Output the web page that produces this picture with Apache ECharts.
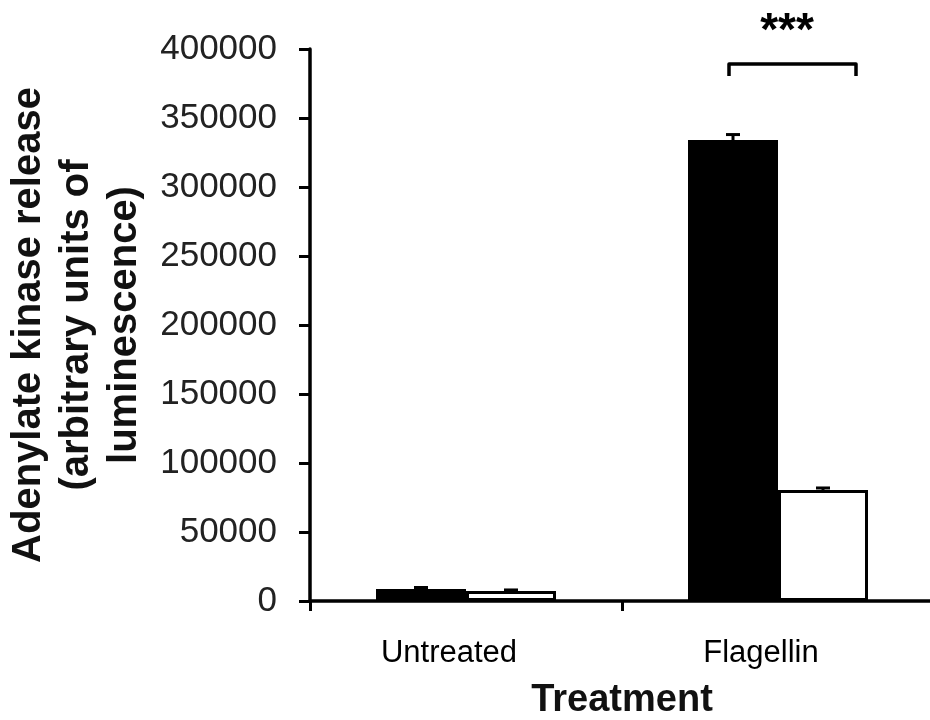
<!DOCTYPE html>
<html>
<head>
<meta charset="utf-8">
<script src="https://cdn.jsdelivr.net/npm/echarts@6/dist/echarts.min.js"></script>
<style>
html,body{margin:0;padding:0;background:#fff;}
#chart{width:930px;height:720px;}
</style>
</head>
<body>
<div id="chart"></div>
<script>
// ---- data ----
const categories = ['Untreated', 'Flagellin'];
const blackValues = [8700, 334000];
const whiteValues = [7300, 80400];
const blackErrors = [1100, 4000];
const whiteErrors = [700, 1500];
const yTicks = [0, 50000, 100000, 150000, 200000, 250000, 300000, 350000, 400000];
const significance = '***';

const FONT = '"Liberation Sans", Arial, Helvetica, sans-serif';
const BAR_W = 90;

const chart = echarts.init(document.getElementById('chart'), null, {renderer: 'canvas'});

function errorSeries(values, errors, sign) {
  return {
    type: 'custom',
    z: 10,
    silent: true,
    data: categories.map((c, i) => [i, values[i], errors[i]]),
    renderItem: function (params, api) {
      const i = api.value(0);
      const v = api.value(1);
      const e = api.value(2);
      const base = api.coord([i, v]);
      const top = api.coord([i, v + e]);
      const x = base[0] + sign * BAR_W / 2;
      const half = 7;
      return {
        type: 'group',
        children: [
          {type: 'line', shape: {x1: x, y1: base[1], x2: x, y2: top[1]}, style: {stroke: '#000', lineWidth: 3}},
          {type: 'line', shape: {x1: x - half, y1: top[1], x2: x + half, y2: top[1]}, style: {stroke: '#000', lineWidth: 3}}
        ]
      };
    }
  };
}

const option = {
  animation: false,
  backgroundColor: '#fff',
  textStyle: {fontFamily: FONT},
  grid: {left: 310, right: -4, top: 49, bottom: 119, containLabel: false, outerBoundsMode: 'none'},
  xAxis: {
    type: 'category',
    data: categories,
    boundaryGap: true,
    axisLine: {lineStyle: {color: '#000', width: 3.5}},
    axisTick: {show: true, length: 10, lineStyle: {color: '#000', width: 3}},
    axisLabel: {fontSize: 31, color: '#000', fontFamily: FONT, margin: 37, padding: [0, 34, 0, 0]},
    name: 'Treatment',
    nameLocation: 'middle',
    nameGap: 81,
    nameTextStyle: {fontSize: 38, fontWeight: 'bold', color: '#111', fontFamily: FONT}
  },
  yAxis: {
    type: 'value',
    min: yTicks[0],
    max: yTicks[yTicks.length - 1],
    interval: yTicks[1] - yTicks[0],
    splitLine: {show: false},
    axisLine: {show: true, lineStyle: {color: '#000', width: 3.5}},
    axisTick: {show: true, length: 11, lineStyle: {color: '#000', width: 3}},
    axisLabel: {fontSize: 35, color: '#222', fontFamily: FONT, margin: 33, formatter: function (v) { return String(v); }},
    name: 'Adenylate kinase release\n(arbitrary units of\nluminescence)',
    nameLocation: 'middle',
    nameGap: 161,
    nameTextStyle: {fontSize: 40, fontWeight: 'bold', color: '#111', lineHeight: 48, align: 'center', fontFamily: FONT}
  },
  series: [
    {
      type: 'bar',
      data: blackValues,
      barWidth: BAR_W,
      barGap: '0%',
      itemStyle: {color: '#000', borderColor: '#000', borderWidth: 0}
    },
    {
      type: 'bar',
      data: whiteValues,
      barWidth: BAR_W,
      barGap: '0%',
      itemStyle: {color: '#fff', borderColor: '#000', borderWidth: 3}
    },
    errorSeries(blackValues, blackErrors, -1),
    errorSeries(whiteValues, whiteErrors, 1)
  ],
  graphic: [
    {
      type: 'polyline',
      shape: {points: [[729, 76], [729, 64], [856, 64], [856, 76]]},
      style: {stroke: '#000', lineWidth: 3.5, fill: null, lineJoin: 'round'}
    },
    {
      type: 'text',
      x: 787,
      y: 32,
      style: {text: significance, fontSize: 46, fontWeight: 'bold', fill: '#000', fontFamily: FONT, align: 'center', verticalAlign: 'middle'}
    }
  ]
};

chart.setOption(option);
</script>
</body>
</html>
